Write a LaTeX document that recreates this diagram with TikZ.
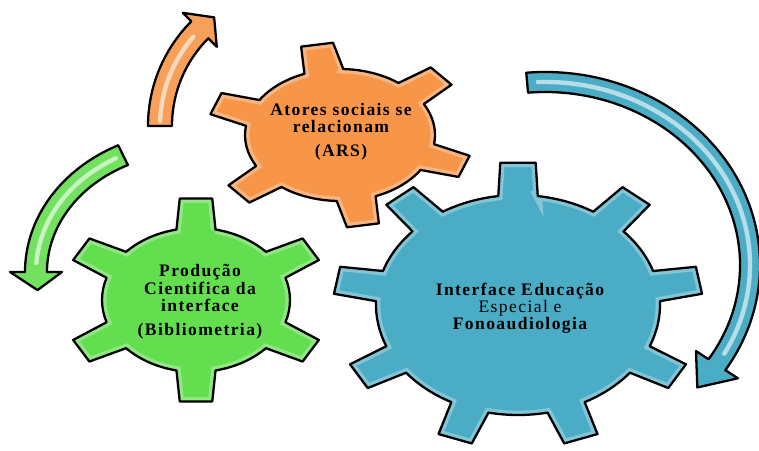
\documentclass[tikz,border=0pt]{standalone}
\usepackage{fontspec}
\setmainfont{Liberation Serif}
\usetikzlibrary{positioning}
\definecolor{gearorange}{RGB}{247,150,72}
\definecolor{geargreen}{RGB}{98,222,78}
\definecolor{gearblue}{RGB}{75,172,198}
\tikzset{gear/.style={draw=black,line width=1.3pt,line join=round},
         geartext/.style={font=\bfseries\fontsize{10}{9.8}\selectfont\addfontfeatures{LetterSpace=8},align=center},
         tube/.style={draw=black,line width=1.3pt,line join=round},
         shine/.style={white,opacity=.6,line width=2.5pt,line cap=round},
         rim/.style={white,opacity=.3,line width=5pt}
}
% teeth, first tooth angle, tip radius, half angle at root, half angle at tip
\newcommand{\gearpath}[5]{({#2-#4}:1)
  \foreach \k [evaluate=\k as \a using #2+(\k-1)*360/#1] in {1,...,#1}{
    -- ({\a-#5}:#3) -- ({\a+#5}:#3) -- ({\a+#4}:1)
    arc[start angle={\a+#4},end angle={\a+360/#1-#4},radius=1]} -- cycle}
\newcommand{\drawgear}[6]{%
  \fill[#1] \gearpath{#2}{#3}{#4}{#5}{#6};
  \begin{scope}
    \clip \gearpath{#2}{#3}{#4}{#5}{#6};
    \draw[rim] \gearpath{#2}{#3}{#4}{#5}{#6};
  \end{scope}
  \draw[gear] \gearpath{#2}{#3}{#4}{#5}{#6};}
% x radius, y radius, tail angle, head angle, tip angle, half width, half head width
\newcommand{\bentarrow}[7]{(#3:{#1+#6} and {#2+#6})
  arc[start angle=#3,end angle=#4,x radius={#1+#6},y radius={#2+#6}]
  -- (#4:{#1+#7} and {#2+#7}) -- (#5:#1 and #2) -- (#4:{#1-#7} and {#2-#7})
  -- (#4:{#1-#6} and {#2-#6})
  arc[start angle=#4,end angle=#3,x radius={#1-#6},y radius={#2-#6}] -- cycle}

\begin{document}
\begin{tikzpicture}[x=0.02cm,y=0.02cm]
\useasboundingbox (0,0) rectangle (759,450);
\clip (0,0) rectangle (759,450);

\coordinate (cblue) at (518,145);
\coordinate (corange) at (340,315);
\coordinate (cgreen) at (196,150);

\begin{scope}[shift={(cblue)},xscale=142,yscale=110]
\drawgear{gearblue}{9}{90}{1.3}{8}{5.5}
\end{scope}
\begin{scope}[shift={(corange)},xscale=95,yscale=66]
\drawgear{gearorange}{6}{100}{1.4}{12}{7}
\end{scope}
\begin{scope}[shift={(cgreen)},xscale=94,yscale=72]
\drawgear{geargreen}{6}{90}{1.42}{12}{7}
\end{scope}

\begin{scope}[shift={(296,324)}]
\fill[gearorange!90!white] \bentarrow{136}{136}{180}{135}{127}{12}{24};
\draw[shine] (178:136) arc[start angle=178,end angle=139,radius=136];
\draw[tube] \bentarrow{136}{136}{180}{135}{127}{12}{24};
\end{scope}
\begin{scope}[shift={(191,178)}]
\fill[geargreen!90!white] \bentarrow{155}{130}{116}{180}{188}{11}{26};
\draw[shine] (119:155 and 130) arc[start angle=119,end angle=176,x radius=155,y radius=130];
\draw[tube] \bentarrow{155}{130}{116}{180}{188}{11}{26};
\end{scope}
\begin{scope}[shift={(545,185)}]
\fill[gearblue] \bentarrow{205}{183}{95}{-33}{-42}{10}{25};
\draw[shine] (92:205 and 183) arc[start angle=92,end angle=-29,x radius=205,y radius=183];
\draw[tube] \bentarrow{205}{183}{95}{-33}{-42}{10}{25};
\end{scope}

\node[geartext] (ars) at (341,318) {Atores sociais se\\relacionam\\[4pt](ARS)};
\node[geartext] (biblio) at (200,148) {Produção\\Cientifica da\\interface\\[4pt](Bibliometria)};
\node[geartext] (interface) at (520,142) {Interface Educação\\{\mdseries Especial e}\\Fonoaudiologia};
\end{tikzpicture}
\end{document}
